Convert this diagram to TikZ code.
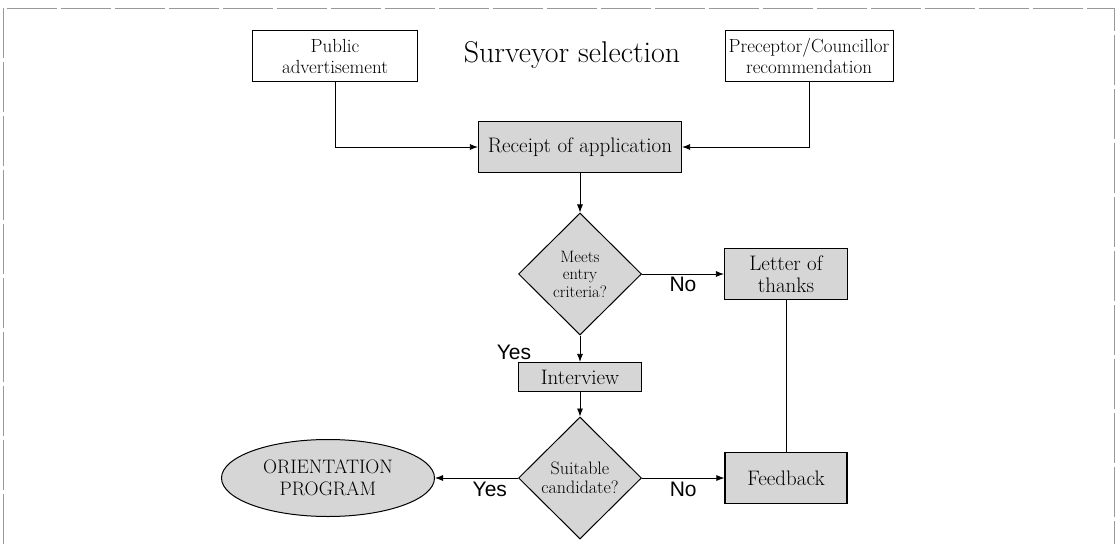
\documentclass[tikz,border=0pt]{standalone}
\usepackage{fontspec}
\newfontfamily\labelfont{Liberation Sans}
\usetikzlibrary{shapes.geometric, arrows.meta}
\definecolor{boxgray}{gray}{0.84}

\begin{document}
\begin{tikzpicture}[x=1pt, y=1pt,
    plainbox/.style={draw, line width=0.8pt, fill=white, align=center, inner sep=1pt,
        minimum height=51pt, font=\fontsize{19}{21}\selectfont},
    greybox/.style={draw, line width=1.2pt, fill=boxgray, align=center, inner sep=1pt,
        font=\fontsize{21}{22}\selectfont},
    decision/.style={diamond, draw, line width=1pt, fill=boxgray, align=center, inner sep=0pt,
        minimum width=123pt, minimum height=122pt},
    arr/.style={-{Latex[length=8pt, width=6pt]}, line width=0.8pt},
    lbl/.style={font=\labelfont\fontsize{21}{23}\selectfont, inner sep=2pt},
    framestyle/.style={draw=gray!80, line width=0.6pt, dash pattern=on 50pt off 4pt}]
        \useasboundingbox (0,0) rectangle (1116,-544);
        \draw[framestyle] (3,-544) -- (3,-8) -- (1114,-8) -- (1114,-544);

        % sources
        \node[plainbox, minimum width=165pt] (pub) at (335,-56) {Public\\advertisement};
        \node[plainbox, minimum width=168pt] (prec) at (809,-56) {Preceptor/Councillor\\recommendation};
        \node[font=\fontsize{30}{34}\selectfont] (title) at (572,-55) {Surveyor selection};

        % main flow
        \node[greybox, minimum width=203pt, minimum height=51pt] (rec) at (580,-147) {Receipt of application};
        \node[decision, font=\fontsize{16.5}{17.5}\selectfont] (meets) at (580,-274) {Meets\\entry\\criteria?};
        \node[greybox, minimum width=123pt, minimum height=51pt] (thanks) at (786,-274) {Letter of\\thanks};
        \node[greybox, minimum width=123pt, minimum height=29pt] (intv) at (580,-377) {Interview};
        \node[decision, font=\fontsize{18}{19}\selectfont] (suit) at (580,-478) {Suitable\\candidate?};
        \node[greybox, minimum width=122pt, minimum height=51pt] (fb) at (786,-478) {Feedback};
        \node[ellipse, draw, line width=1pt, fill=boxgray, minimum width=213pt, minimum height=77pt,
            inner sep=0pt, align=center, font=\fontsize{19.5}{22}\selectfont] (orient) at (328,-478) {ORIENTATION\\PROGRAM};

        \draw[arr] (pub.south) |- (rec.west);
        \draw[arr] (prec.south) |- (rec.east);
        \draw[arr] (rec) -- (meets);
        \draw[arr] (meets) -- node[lbl, below=1pt] (no1) {No} (thanks);
        \draw[arr] (meets) -- (intv);
        \node[lbl, anchor=south] (yes1) at ([xshift=-4pt]intv.north west) {Yes};
        \draw[arr] (intv) -- (suit);
        \draw[arr] (suit) -- node[lbl, below=2pt] (no2) {No} (fb);
        \draw[arr] (suit) -- node[lbl, pos=0.34, below=2pt] (yes2) {Yes} (orient);
        \draw[line width=0.8pt] (thanks) -- (fb);
    \end{tikzpicture}
\end{document}
